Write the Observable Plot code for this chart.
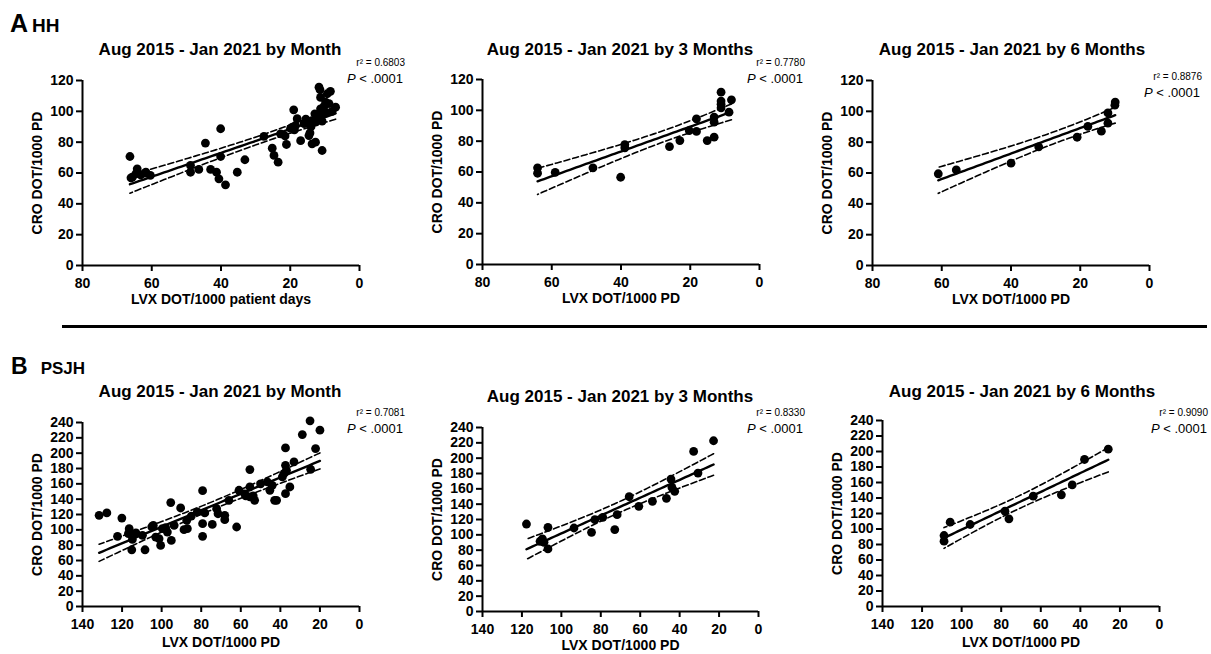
<!DOCTYPE html>
<html>
<head>
<meta charset="utf-8">
<script src="https://cdn.jsdelivr.net/npm/d3@7"></script>
<script src="https://cdn.jsdelivr.net/npm/@observablehq/plot@0.6"></script>
<style>
  html, body { margin: 0; padding: 0; background: #fff; }
  #root { position: relative; width: 1211px; height: 654px; overflow: hidden; background: #fff;
          font-family: "Liberation Sans", Arial, sans-serif; color: #000; }
  .abs { position: absolute; white-space: nowrap; line-height: 1; }
  .title { font-weight: bold; font-size: 17px; transform: translateX(-50%); }
  .r2 { font-size: 10px; transform: translateX(-100%); }
  .pv { font-size: 13px; transform: translateX(-100%); }
</style>
</head>
<body>
<div id="root"></div>
<script>
// ---------------- DATA (LVX DOT/1000 PD, CRO DOT/1000 PD) ----------------
const hhMonth = [
  [66.3,70.7],[66.0,56.9],[65.6,57.3],[64.2,62.7],[64.6,59.5],[63.2,58.8],[62.0,59.9],[61.7,60.5],
  [60.4,58.4],[48.8,64.9],[48.8,60.5],[46.4,62.3],[44.5,79.4],[43.0,62.3],[41.3,60.5],[40.1,88.7],
  [40.1,70.7],[40.6,56.2],[38.7,52.3],[35.3,60.5],[33.1,68.6],[27.6,83.7],[25.2,76.1],[24.7,71.4],
  [23.5,67.0],[22.8,85.4],[21.1,78.5],[19.0,101],[19.4,89.7],[19.9,89.0],[18.0,95.2],[18.5,90.8],
  [17.0,81.0],[15.1,93.0],[14.6,84.3],[14.3,86.0],[13.7,78.9],[12.7,93.0],[13.6,94.0],[12.7,80.0],
  [11.7,115.7],[11.4,114],[11.25,101.6],[11.25,109],[10.8,98.4],[10.8,74.6],[10.8,93.6],[9.8,106],
  [9.3,111.4],[8.4,113],[7.9,100],[6.9,102.7],[12.9,98.4],[12.2,96],[10.3,103],[9.5,99],
  [14.0,90],[16.0,92],[18.8,88],[21.5,84],[15.5,95],[8.8,105]
];
const hh3Month = [
  [64.1,62.7],[64.1,59.2],[59.0,59.7],[48.1,62.7],[40.1,56.6],[38.9,77.8],[38.9,75.7],[26.0,76.5],
  [23.0,80.4],[20.3,86.9],[18.2,94.5],[18.2,86.3],[15.1,80.4],[13.1,82.6],[13.1,95.6],[13.1,92.3],
  [11.1,111.8],[11.1,106],[11.1,101.6],[11.1,104],[8.8,98.8],[8.1,106.8]
];
const hh6Month = [
  [61.0,59.5],[55.8,62.0],[40.0,66.4],[32.0,77.0],[20.9,83.2],[17.8,90.2],[13.9,87.1],[12.0,92.3],
  [12.0,99.0],[9.9,106],[10.0,104]
];
const psjhMonth = [
  [131.6,118.9],[127.7,122],[120.1,115.4],[122.3,91.5],[116.4,101.5],[116.8,95],[115.1,74],[114.8,87.5],
  [109.7,92.8],[108.4,74],[104.2,105.8],[103,90.6],[101.3,88.4],[100.5,79.7],[99.6,101.5],[97.1,97.1],
  [95.4,135.5],[95.1,86.2],[93.7,105.8],[90.4,128.5],[88.7,100.2],[87,101.5],[87.3,112.4],[82,123.3],
  [79.3,151.1],[79.3,108],[79.3,91.5],[78.2,122],[74.4,107.1],[72.2,127.6],[71.5,121],[68.1,118.9],
  [68.1,113.2],[66,138.5],[62.1,103.7],[60.9,151.6],[57.5,144.2],[55.4,178.6],[55.4,142.9],[53.7,144.2],
  [53,138.5],[55.4,155.9],[46.6,162.5],[45.3,151.6],[44.1,158.1],[42.9,138.5],[41.9,138.5],[37.4,206.9],
  [37.4,184.2],[37.4,147.2],[38.2,173.3],[36.9,177.7],[35.2,155.9],[33.1,188.6],[39,169],[28.9,224.3],
  [25,242.2],[22.2,206],[20,230],[24.7,179],[113,96],[105,104],[98,103],[85,118],[58,147],[50,160]
];
const psjh3Month = [
  [117.7,114.1],[110.8,91.6],[109.6,94.6],[108.8,90.3],[106.8,109.8],[106.8,81.6],[93.6,108.9],[84.7,103.3],
  [83,119.8],[79,122.8],[72.9,106.8],[71.7,126.3],[65.6,149.7],[60.7,137.2],[53.8,143.7],[46.7,147.6],
  [44.4,172.7],[43.9,161.9],[42.5,156.7],[32.9,208.8],[30.7,180.6],[22.8,222.7]
];
const psjh6Month = [
  [108.9,91.6],[108.9,84.3],[105.8,108.8],[95.7,105.8],[78.1,123],[76.1,113.1],[63.8,142.4],[49.6,144.1],
  [44.1,157],[37.9,189.7],[25.9,203]
];

const titles = ["Aug 2015 - Jan 2021 by Month", "Aug 2015 - Jan 2021 by 3 Months", "Aug 2015 - Jan 2021 by 6 Months"];
const r2Labels = ["r\u00b2 = 0.6803", "r\u00b2 = 0.7780", "r\u00b2 = 0.8876", "r\u00b2 = 0.7081", "r\u00b2 = 0.8330", "r\u00b2 = 0.9090"];
const pLabel = ".0001";
const yLabel = "CRO DOT/1000 PD";
const xLabels = ["LVX DOT/1000 patient days", "LVX DOT/1000 PD"];
const hhXTicks = [0, 20, 40, 60, 80];
const hhYTicks = [0, 20, 40, 60, 80, 100, 120];
const psjhXTicks = [0, 20, 40, 60, 80, 100, 120, 140];
const psjhYTicks = [0, 20, 40, 60, 80, 100, 120, 140, 160, 180, 200, 220, 240];
const sections = [["A", "HH"], ["B", "PSJH"]];

// ---------------- LAYOUT ----------------
const panels = [
  {data: hhMonth,   xt: hhXTicks,   yt: hhYTicks,   title: 0, xl: 0, r2: 0, L: 82,  T: 80,  W: 277, H: 185, tx: 220,  ty: 41,  ax: 405,  ay: 58,  px: 403,  py: 72,  xdy: 34},
  {data: hh3Month,  xt: hhXTicks,   yt: hhYTicks,   title: 1, xl: 1, r2: 1, L: 482, T: 79,  W: 277, H: 185, tx: 620,  ty: 41,  ax: 805,  ay: 58,  px: 803,  py: 72,  xdy: 34},
  {data: hh6Month,  xt: hhXTicks,   yt: hhYTicks,   title: 2, xl: 1, r2: 2, L: 872, T: 80,  W: 277, H: 185, tx: 1012, ty: 41,  ax: 1202, ay: 72,  px: 1200, py: 86,  xdy: 34},
  {data: psjhMonth, xt: psjhXTicks, yt: psjhYTicks, title: 0, xl: 1, r2: 3, L: 82,  T: 422, W: 277, H: 184, tx: 220,  ty: 383, ax: 405,  ay: 408, px: 403,  py: 422, xdy: 36},
  {data: psjh3Month,xt: psjhXTicks, yt: psjhYTicks, title: 1, xl: 1, r2: 4, L: 482, T: 427, W: 276, H: 184, tx: 620,  ty: 388, ax: 805,  ay: 408, px: 803,  py: 422, xdy: 34},
  {data: psjh6Month,xt: psjhXTicks, yt: psjhYTicks, title: 2, xl: 1, r2: 5, L: 882, T: 420, W: 277, H: 186, tx: 1022, ty: 383, ax: 1208, ay: 408, px: 1207, py: 422, xdy: 36}
];

// t quantile (two-sided 95%) approximation
function tq(df) {
  const z = 1.959964;
  return z + (z**3 + z) / (4 * df) + (5 * z**5 + 16 * z**3 + 3 * z) / (96 * df * df);
}

// least squares fit with 95% confidence band for the mean, derived from the data
function fit(pts) {
  const N = pts.length;
  const mx = d3.mean(pts, d => d[0]), my = d3.mean(pts, d => d[1]);
  const sxx = d3.sum(pts, d => (d[0] - mx) ** 2);
  const sxy = d3.sum(pts, d => (d[0] - mx) * (d[1] - my));
  const b = sxy / sxx, a = my - b * mx;
  const s = Math.sqrt(d3.sum(pts, d => (d[1] - a - b * d[0]) ** 2) / (N - 2));
  const t = tq(N - 2);
  const [x0, x1] = d3.extent(pts, d => d[0]);
  return d3.range(0, 61).map(i => {
    const x = x0 + (x1 - x0) * i / 60;
    const yh = a + b * x;
    const se = s * Math.sqrt(1 / N + (x - mx) ** 2 / sxx);
    return {x, y: yh, lo: yh - t * se, hi: yh + t * se};
  });
}

const root = document.getElementById("root");
function addText(cls, txt, left, top, html) {
  const d = document.createElement("div");
  d.className = "abs " + cls;
  if (html) d.innerHTML = txt; else d.textContent = txt;
  d.style.left = left + "px";
  d.style.top = top + "px";
  root.appendChild(d);
  return d;
}

const ML = 80, MR = 14, MT = 10, MB = 50;
panels.forEach(p => {
  const xmax = d3.max(p.xt), ymax = d3.max(p.yt);
  const f = fit(p.data);
  const svg = Plot.plot({
    width: p.W + ML + MR,
    height: p.H + MT + MB,
    marginLeft: ML, marginRight: MR, marginTop: MT, marginBottom: MB,
    x: {domain: [xmax, 0], label: null, axis: null},
    y: {domain: [0, ymax], label: null, axis: null},
    style: {fontFamily: "'Liberation Sans', Arial, sans-serif", fontSize: "14px", fontWeight: "bold",
            background: "transparent", color: "#000", overflow: "visible"},
    marks: [
      Plot.axisX(p.xt, {tickSize: 6, strokeWidth: 2, tickFormat: () => "", label: null}),
      Plot.axisY(p.yt, {tickSize: 6, strokeWidth: 2, tickFormat: () => "", label: null}),
      Plot.text(p.xt, {x: d => d, text: d => String(d), frameAnchor: "bottom", lineAnchor: "middle", textAnchor: "middle", dy: 18, fontSize: 14, fontWeight: "bold"}),
      Plot.text(p.yt, {y: d => d, text: d => String(d), frameAnchor: "left", lineAnchor: "middle", textAnchor: "end", dx: -9, fontSize: 14, fontWeight: "bold"}),
      Plot.ruleY([0], {x1: xmax, x2: 0, stroke: "#000", strokeWidth: 2}),
      Plot.ruleX([xmax], {y1: 0, y2: ymax, stroke: "#000", strokeWidth: 2}),
      Plot.line(f, {x: "x", y: "lo", stroke: "#000", strokeWidth: 1.6, strokeDasharray: "6,3"}),
      Plot.line(f, {x: "x", y: "hi", stroke: "#000", strokeWidth: 1.6, strokeDasharray: "6,3"}),
      Plot.dot(p.data, {x: d => d[0], y: d => d[1], r: 4.4, fill: "#000", stroke: "none"}),
      Plot.line(f, {x: "x", y: "y", stroke: "#000", strokeWidth: 2.4}),
      Plot.text([xLabels[p.xl]], {text: d => d, frameAnchor: "bottom", lineAnchor: "middle", textAnchor: "middle", dy: p.xdy, fontSize: 14, fontWeight: "bold"}),
      Plot.text([yLabel], {text: d => d, frameAnchor: "left", lineAnchor: "middle", textAnchor: "middle", dx: -45, rotate: -90, fontSize: 14, fontWeight: "bold"})
    ]
  });
  svg.style.position = "absolute";
  svg.style.left = (p.L - ML) + "px";
  svg.style.top = (p.T - MT) + "px";
  root.appendChild(svg);
  addText("title", titles[p.title], p.tx, p.ty);
  addText("r2", r2Labels[p.r2], p.ax, p.ay);
  addText("pv", "<i>P</i> &lt; " + pLabel, p.px, p.py, true);
});

// section headings
const hA = addText("", "", 10, 11, true);
hA.innerHTML = '<span style="font-weight:bold;font-size:25px">' + sections[0][0] + '</span><span style="font-weight:bold;font-size:19px;margin-left:4px">' + sections[0][1] + '</span>';
const hB = addText("", "", 11, 355, true);
hB.innerHTML = '<span style="font-weight:bold;font-size:23px">' + sections[1][0] + '</span><span style="font-weight:bold;font-size:17px;margin-left:13px">' + sections[1][1] + '</span>';

// divider between the two sections
const hr = document.createElement("div");
hr.style.cssText = "position:absolute;left:62px;top:325px;width:1145px;height:3px;background:#000;";
root.appendChild(hr);
</script>
</body>
</html>
